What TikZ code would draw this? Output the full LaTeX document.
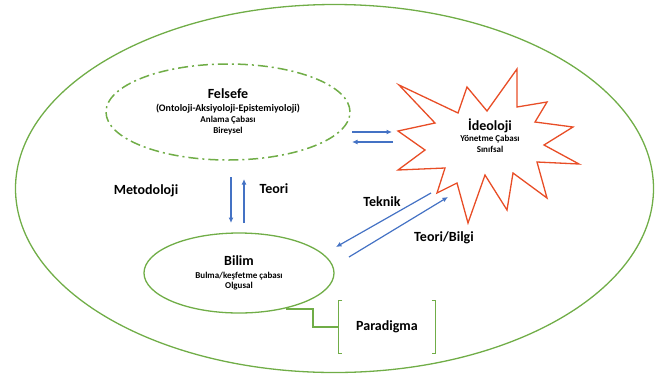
\documentclass[tikz,border=0pt]{standalone}
\usepackage{fontspec}
\setmainfont{Carlito}
\usetikzlibrary{arrows.meta,shapes.geometric}
\definecolor{yesilc}{RGB}{112,173,71}
\definecolor{mavic}{RGB}{68,114,196}
\definecolor{kirmizic}{RGB}{232,77,38}

\begin{document}
\begin{tikzpicture}[x=1pt,y=-1pt,
  yesil/.style={draw=yesilc,line width=1.3pt},
  ok/.style={draw=mavic,line width=1.2pt,-{Latex[length=5.5pt,width=5pt]}},
  etiket/.style={text=black,font=\fontsize{14}{16}\selectfont\bfseries},
  baslik/.style={text=black,align=center,inner sep=0pt,font=\fontsize{9}{11}\selectfont\bfseries}]

\useasboundingbox (0,0) rectangle (656,376);

% outer circle and the three fields:
\path (334.5,188.5) node[ellipse,yesil,minimum width=638pt,minimum height=368pt,inner sep=0pt] (evren) {};
\path (228,112) node[ellipse,draw=yesilc,line width=1.5pt,dash pattern=on 10pt off 4pt on 2pt off 4pt,
  minimum width=244pt,minimum height=96pt,baslik] (felsefe)
  {{\fontsize{14}{14}\selectfont Felsefe}\\[2pt]
   {\fontsize{10}{11}\selectfont (Ontoloji-Aksiyoloji-Epistemiyoloji)}\\ Anlama Çabası\\ Bireysel};
\path (239,273) node[ellipse,yesil,minimum width=190pt,minimum height=80pt,baslik] (bilim)
  {{\fontsize{14}{14}\selectfont Bilim}\\[2pt] Bulma/keşfetme çabası\\[-1pt] Olgusal};
\draw[draw=kirmizic,line width=1.3pt,line join=miter]
  (399,85) -- (458,113) -- (467,87) -- (487,111) -- (517,69) -- (517,107) -- (547,102) -- (535,122)
  -- (573,127) -- (544,145) -- (579,164) -- (537,162) -- (547,198) -- (513,173) -- (507,210)
  -- (485,175) -- (468,223) -- (457,183) -- (437,193) -- (445,168) -- (398,170) -- (425,150)
  -- (398,131) -- (435,123) -- cycle;
\path (490,136) node[baslik] (ideoloji)
  {{\fontsize{14}{14}\selectfont İdeoloji}\\ Yönetme Çabası\\ Sınıfsal};

% paradigma bracket:
\path (387,327) node[etiket,minimum width=97pt,minimum height=52pt] (paradigma) {Paradigma};
\draw[yesil,line width=1.1pt] ([xshift=4pt]paradigma.north west) -- (paradigma.north west) -- (paradigma.south west) -- ([xshift=4pt]paradigma.south west);
\draw[yesil,line width=1.1pt] ([xshift=-4pt]paradigma.north east) -- (paradigma.north east) -- (paradigma.south east) -- ([xshift=-4pt]paradigma.south east);
\coordinate (bilimuc) at (286,309);
\draw[yesil,line width=1.1pt] (bilimuc) -- ++(27,0) |- (paradigma.west);

% arrows:
\coordinate (fsag1) at (352,132);
\coordinate (isol1) at (392,132);
\coordinate (isol2) at (393,142);
\coordinate (fsag2) at (352,142);
\coordinate (falt1) at (231,177);
\coordinate (bust1) at (231,223);
\coordinate (bust2) at (244,223);
\coordinate (falt2) at (244,179);
\coordinate (ialt1) at (431,193);
\coordinate (bsag1) at (336,247);
\coordinate (bsag2) at (349,257);
\coordinate (ialt2) at (448,197);
\draw[ok] (fsag1) -- (isol1);
\draw[ok] (isol2) -- (fsag2);
\draw[ok] (falt1) -- (bust1);
\draw[ok] (bust2) -- (falt2);
\draw[ok] (ialt1) -- (bsag1);
\draw[ok] (bsag2) -- (ialt2);

% labels:
\path (146,191) node[etiket] (metodoloji) {Metodoloji};
\path (274,189) node[etiket] (teori) {Teori};
\path (382,202) node[etiket] (teknik) {Teknik};
\path (444,238) node[etiket] (teoribilgi) {Teori/Bilgi};

\end{tikzpicture}
\end{document}
